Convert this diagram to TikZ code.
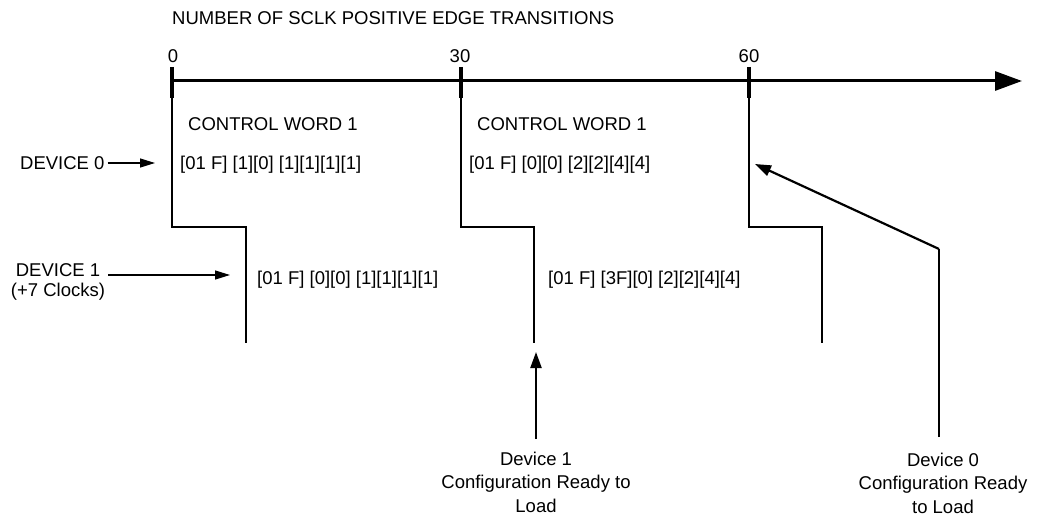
\documentclass[tikz,border=0pt]{standalone}
\usepackage{fontspec}
\setmainfont{Liberation Sans}
\usetikzlibrary{arrows.meta}
\begin{document}
\begin{tikzpicture}[x=1pt,y=-1pt,
  lbl/.style={font=\fontsize{18.5}{21}\selectfont, inner sep=0pt},
  trace/.style={line width=1.3pt},
  tickmark/.style={line width=3.5pt},
  axisline/.style={line width=3pt, -{Triangle[length=27pt,width=19pt]}},
  ptrthin/.style={line width=1.3pt, -{Triangle[length=15pt,width=9pt]}},
  ptrthick/.style={line width=2.2pt, -{Triangle[length=16pt,width=11pt]}},
  ]
\useasboundingbox (0,0) rectangle (1040,516);

% title
\node[lbl, anchor=base west] (title) at (172,24.5) {NUMBER OF SCLK POSITIVE EDGE TRANSITIONS};

% axis
\coordinate (ax0) at (172,81);
\coordinate (axend) at (1022,81);
\draw[axisline] (ax0) -- (axend);

% ticks
\coordinate (t0top) at (172,67);  \coordinate (t0bot) at (172,98);
\coordinate (t1top) at (461,67);  \coordinate (t1bot) at (461,98);
\coordinate (t2top) at (749,67);  \coordinate (t2bot) at (749,98);
\draw[tickmark] (t0top) -- (t0bot);
\draw[tickmark] (t1top) -- (t1bot);
\draw[tickmark] (t2top) -- (t2bot);
\node[lbl, anchor=base] (n0)  at (173,63) {0};
\node[lbl, anchor=base] (n30) at (460,63) {30};
\node[lbl, anchor=base] (n60) at (749,63) {60};

% traces
\coordinate (s0) at (246,227); \coordinate (e0) at (246,343);
\coordinate (s1) at (534,227); \coordinate (e1) at (534,343);
\coordinate (s2) at (822,227); \coordinate (e2) at (822,343);
\draw[trace] (t0bot) |- (s0) -- (e0);
\draw[trace] (t1bot) |- (s1) -- (e1);
\draw[trace] (t2bot) |- (s2) -- (e2);

% control word texts
\node[lbl, anchor=base west] (cw1) at (188,130.5) {CONTROL WORD 1};
\node[lbl, anchor=base west] (cw2) at (477,130.5) {CONTROL WORD 1};
\node[lbl, anchor=base west] (d0a) at (180,169.5) {[01 F] [1][0] [1][1][1][1]};
\node[lbl, anchor=base west] (d0b) at (469,169.5) {[01 F] [0][0] [2][2][4][4]};
\node[lbl, anchor=base west] (d1a) at (257,284.5) {[01 F] [0][0] [1][1][1][1]};
\node[lbl, anchor=base west] (d1b) at (548,284.5) {[01 F] [3F][0] [2][2][4][4]};

% device labels
\node[lbl, anchor=base west] (dev0) at (20,169.5) {DEVICE 0};
\coordinate (d0tip) at (155,163);
\draw[ptrthin, shorten <=3pt] (dev0.east |- d0tip) -- (d0tip);

\node[lbl, align=center, anchor=north, font=\fontsize{18.5}{20.5}\selectfont] (dev1) at (58,263) {DEVICE 1\\(+7 Clocks)};
\coordinate (d1tip) at (230,275);
\draw[ptrthin, shorten <=3pt] (dev1.east |- d1tip) -- (d1tip);

% bottom labels
\node[lbl, align=center, anchor=north, font=\fontsize{18.5}{23.5}\selectfont] (cfg1) at (536,451.5) {Device 1\\Configuration Ready to\\Load};
\coordinate (tip1) at (536,352);
\draw[ptrthick, shorten <=12.5pt] (cfg1.north) -- (tip1);

\node[lbl, align=center, anchor=north, font=\fontsize{18.5}{23.5}\selectfont] (cfg0) at (943,452.5) {Device 0\\Configuration Ready\\to Load};
\coordinate (bend) at (939,249);
\coordinate (tip0) at (755,164);
\draw[trace, shorten <=15.5pt] (cfg0.north -| bend) -- (bend);
\draw[ptrthick] (bend) -- (tip0);
\end{tikzpicture}
\end{document}
